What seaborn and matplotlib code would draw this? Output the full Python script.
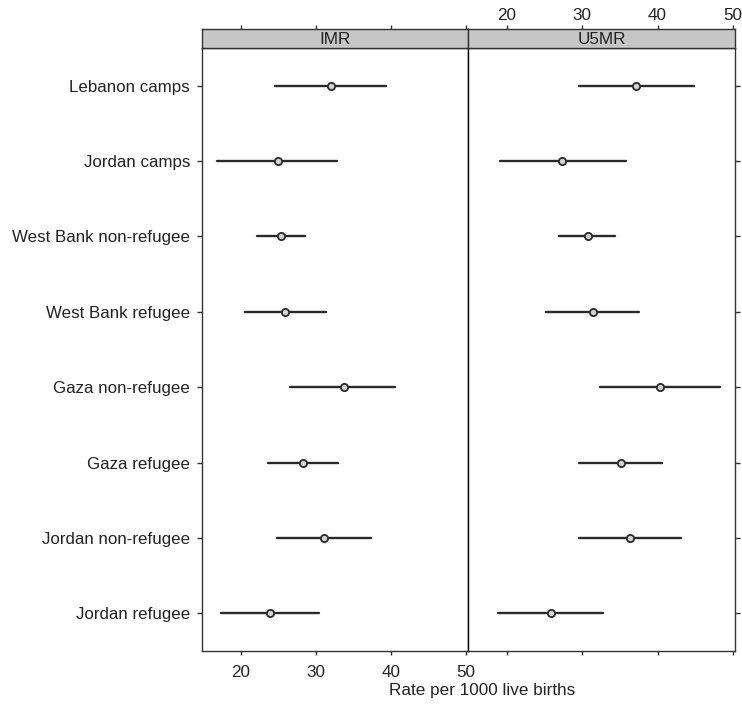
import numpy as np
import pandas as pd
import matplotlib
matplotlib.use("Agg")
import matplotlib.pyplot as plt
import seaborn as sns

# groups, top to bottom
groups = ["Lebanon camps", "Jordan camps", "West Bank non-refugee", "West Bank refugee",
          "Gaza non-refugee", "Gaza refugee", "Jordan non-refugee", "Jordan refugee"]

# infant mortality rate (per 1000): estimate and interval
imr_est = [32.0, 24.9, 25.3, 25.9, 33.7, 28.3, 31.1, 23.9]
imr_low = [24.6, 16.8, 22.1, 20.5, 26.6, 23.6, 24.8, 17.4]
imr_high = [39.3, 32.8, 28.6, 31.3, 40.6, 33.0, 37.4, 30.4]

# under-five mortality rate
u5mr_est = [37.2, 27.3, 30.7, 31.4, 40.3, 35.1, 36.3, 25.8]
u5mr_low = [29.5, 19.0, 26.9, 25.2, 32.4, 29.5, 29.5, 18.8]
u5mr_high = [44.9, 35.8, 34.4, 37.6, 48.3, 40.6, 43.1, 32.7]

panels = ["IMR", "U5MR"]
x_ticks = [20, 30, 40, 50]

# long table: three rows per group (low, estimate, high)
rows = []
for panel, est, low, high in [("IMR", imr_est, imr_low, imr_high),
                              ("U5MR", u5mr_est, u5mr_low, u5mr_high)]:
    for g, e, lo, hi in zip(groups, est, low, high):
        for v in (lo, e, hi):
            rows.append({"panel": panel, "group": g, "rate": v})
df = pd.DataFrame(rows)

sns.set_style("white")
plt.rcParams["font.family"] = ["Liberation Sans", "DejaVu Sans"]
plt.rcParams["font.size"] = 12

fig = plt.figure(figsize=(7.42, 7.07), dpi=100)

xlim = (14.8, 50.3)
frame = "#333333"
txt = "#222222"
ax_b = 56 / 707
ax_h = 603 / 707
strip_h = 18.7 / 707
lefts = [202 / 742, 468 / 742]
widths = [266 / 742, 267 / 742]

for i, panel in enumerate(panels):
    ax = fig.add_axes([lefts[i], ax_b, widths[i], ax_h])
    sub = df[df["panel"] == panel]
    # median of (low, est, high) = est, 100% interval = low..high
    sns.pointplot(data=sub, x="rate", y="group", order=groups, ax=ax,
                  estimator="median", errorbar=("pi", 100),
                  linestyle="none", marker="o", markersize=5.2,
                  markerfacecolor="#d2d2d2", markeredgecolor="#2a2a2a",
                  markeredgewidth=1.3, color="#2a2a2a",
                  err_kws={"linewidth": 1.7, "color": "#2a2a2a"})
    for ln in ax.lines:
        if ln.get_marker() not in (None, "None", "", " "):
            ln.set_zorder(5)
    ax.set_xlim(*xlim)
    ax.set_ylim(len(groups) - 0.5, -0.5)
    ax.set_xlabel("")
    ax.set_ylabel("")
    ax.set_xticks(x_ticks)
    for sp in ax.spines.values():
        sp.set_color(frame)
        sp.set_linewidth(1.0)
    if i == 1:
        ax.spines["left"].set_color("black")

    # strip on top of each panel
    sax = fig.add_axes([lefts[i], ax_b + ax_h, widths[i], strip_h])
    sax.set_facecolor("#c6c6c6")
    sax.set_xlim(*xlim)
    sax.set_yticks([])
    sax.set_xticks(x_ticks)
    for sp in sax.spines.values():
        sp.set_color(frame)
        sp.set_linewidth(1.0)
    sax.text(0.5, 0.45, panel, transform=sax.transAxes, ha="center", va="center",
             fontsize=12.3, color=txt)

    if i == 0:
        ax.tick_params(axis="y", left=True, right=False, labelleft=True,
                       direction="out", length=3.6, width=1, color=frame, pad=5,
                       labelsize=12.2, labelcolor=txt)
        ax.tick_params(axis="x", bottom=True, labelbottom=True, top=False,
                       direction="out", length=3, width=1, color=frame, pad=7.3,
                       labelsize=12.3, labelcolor=txt)
        sax.tick_params(axis="x", top=True, labeltop=False, bottom=False,
                        labelbottom=False, direction="out", length=3, width=1,
                        color=frame)
    else:
        ax.tick_params(axis="y", left=False, labelleft=False, right=True,
                       labelright=False, direction="out", length=3.6, width=1,
                       color=frame)
        ax.tick_params(axis="x", bottom=True, labelbottom=False, top=False,
                       direction="out", length=3, width=1, color=frame)
        sax.tick_params(axis="x", top=True, labeltop=True, bottom=False,
                        labelbottom=False, direction="out", length=3, width=1,
                        color=frame, pad=1.2, labelsize=12.3, labelcolor=txt)

fig.text(482 / 742, 1 - 690 / 707, "Rate per 1000 live births", ha="center",
         va="center", fontsize=12.3, color=txt)

fig.savefig("out.png", dpi=100)
